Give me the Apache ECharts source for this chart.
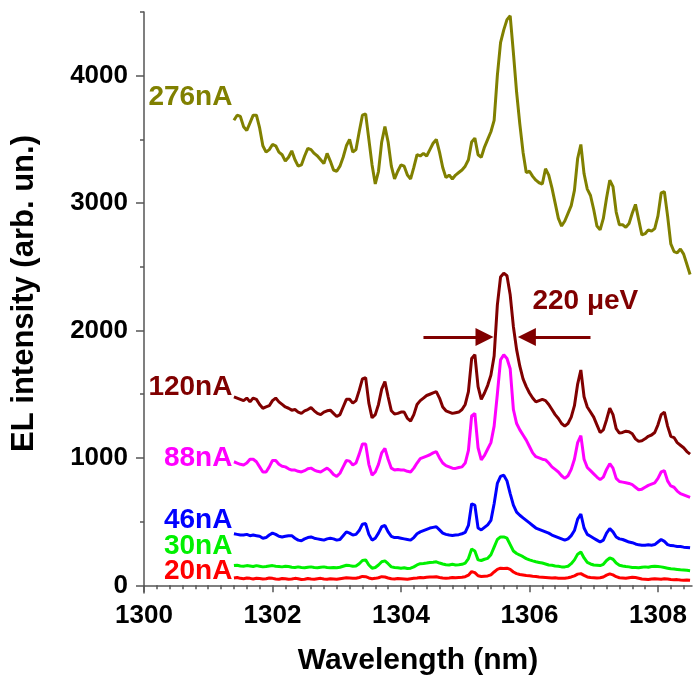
<!DOCTYPE html>
<html>
<head>
<meta charset="utf-8">
<script src="https://cdn.jsdelivr.net/npm/echarts@6/dist/echarts.min.js"></script>
<style>
  html, body { margin: 0; padding: 0; background: #fff; }
  #chart { width: 693px; height: 675px; }
</style>
</head>
<body>
<div id="chart"></div>
<script>
// wavelength grid (nm), shared by all spectra
var wavelength = [
  1301.4, 1301.45, 1301.5, 1301.55, 1301.6, 1301.65, 1301.7, 1301.75, 1301.8, 1301.85, 1301.9, 1301.95,
  1302, 1302.05, 1302.1, 1302.15, 1302.2, 1302.25, 1302.3, 1302.35, 1302.4, 1302.45,
  1302.5, 1302.55, 1302.6, 1302.65, 1302.7, 1302.75, 1302.8, 1302.85, 1302.9, 1302.95,
  1303, 1303.05, 1303.1, 1303.15, 1303.2, 1303.25, 1303.3, 1303.35, 1303.4, 1303.45,
  1303.5, 1303.55, 1303.6, 1303.65, 1303.7, 1303.75, 1303.8, 1303.85, 1303.9, 1303.95,
  1304, 1304.05, 1304.1, 1304.15, 1304.2, 1304.25, 1304.3, 1304.35, 1304.4, 1304.45,
  1304.5, 1304.55, 1304.6, 1304.65, 1304.7, 1304.75, 1304.8, 1304.85, 1304.9, 1304.95,
  1305, 1305.05, 1305.1, 1305.15, 1305.2, 1305.25, 1305.3, 1305.35, 1305.4, 1305.45,
  1305.5, 1305.55, 1305.6, 1305.65, 1305.7, 1305.75, 1305.8, 1305.85, 1305.9, 1305.95,
  1306, 1306.05, 1306.1, 1306.15, 1306.2, 1306.25, 1306.3, 1306.35, 1306.4, 1306.45,
  1306.5, 1306.55, 1306.6, 1306.65, 1306.7, 1306.75, 1306.8, 1306.85, 1306.9, 1306.95,
  1307, 1307.05, 1307.1, 1307.15, 1307.2, 1307.25, 1307.3, 1307.35, 1307.4, 1307.45,
  1307.5, 1307.55, 1307.6, 1307.65, 1307.7, 1307.75, 1307.8, 1307.85, 1307.9, 1307.95,
  1308, 1308.05, 1308.1, 1308.15, 1308.2, 1308.25, 1308.3, 1308.35, 1308.4, 1308.45, 1308.5
]

var el276 = [
  3650, 3690, 3680, 3600, 3570, 3630, 3690, 3690, 3590, 3450, 3400, 3420,
  3460, 3450, 3400, 3380, 3330, 3360, 3410, 3340, 3290, 3300,
  3370, 3430, 3420, 3390, 3370, 3340, 3310, 3390, 3330, 3260,
  3250, 3290, 3360, 3450, 3500, 3400, 3420, 3560, 3690, 3700,
  3500, 3300, 3150, 3250, 3480, 3600, 3480, 3290, 3190, 3250,
  3300, 3290, 3220, 3190, 3280, 3380, 3370, 3390, 3370, 3420,
  3470, 3500, 3400, 3280, 3200, 3220, 3190, 3220, 3240, 3260,
  3290, 3340, 3480, 3510, 3380, 3360, 3440, 3500, 3560, 3650,
  4000, 4260, 4360, 4440, 4470, 4180, 3870, 3620, 3400, 3240,
  3250, 3210, 3180, 3160, 3150, 3270, 3220, 3120, 3000, 2880,
  2820, 2860, 2920, 2980, 3100, 3350, 3460, 3230, 3110, 3060,
  2950, 2820, 2790, 2880, 3040, 3180, 3130, 2930, 2830, 2830,
  2810, 2840, 2920, 2990, 2870, 2750, 2760, 2790, 2780, 2800,
  2900, 3080, 3090, 2900, 2680, 2620, 2610, 2640, 2600, 2520, 2440
]

var el120 = [
  1480, 1470, 1460, 1450, 1470, 1440, 1470, 1460, 1420, 1390, 1400, 1410,
  1450, 1470, 1440, 1420, 1400, 1390, 1375, 1380, 1360, 1350,
  1370, 1380, 1395, 1370, 1350, 1340, 1360, 1370, 1375, 1350,
  1325, 1340, 1400, 1460, 1460, 1430, 1450, 1530, 1620, 1630,
  1430, 1315, 1340, 1420, 1540, 1600, 1480, 1370, 1345, 1350,
  1360, 1360, 1310, 1290, 1340, 1420, 1450, 1470, 1490, 1500,
  1510, 1520, 1470, 1400, 1370, 1360, 1350, 1355, 1360, 1380,
  1420, 1520, 1780, 1810, 1560, 1460, 1510, 1570, 1650, 1800,
  2200, 2420, 2450, 2430, 2280, 2030, 1850, 1720, 1620, 1560,
  1510, 1470, 1440, 1450, 1460, 1450, 1420, 1380, 1340, 1310,
  1270, 1250, 1270, 1320, 1410, 1580, 1690, 1480, 1400, 1360,
  1320, 1260, 1200, 1220, 1300, 1390, 1340, 1230, 1195, 1200,
  1210, 1205, 1190, 1150, 1130, 1135, 1150, 1170, 1180, 1200,
  1260, 1340, 1360, 1250, 1170, 1160, 1120, 1100, 1080, 1050, 1030
]

var el88 = [
  970, 960, 950, 945, 960, 990, 990, 970, 930, 890, 890, 930,
  980, 980, 950, 935, 930, 915, 905, 905, 895, 890,
  900, 915, 920, 905, 895, 890, 905, 920, 900, 870,
  855, 880, 930, 980, 975, 945, 960, 1030, 1110, 1110,
  950, 865, 890, 950, 1040, 1075, 990, 920, 905, 910,
  905, 905, 895, 890, 920, 960, 995, 1005, 1015, 1025,
  1040, 1050, 1000, 960, 940, 930, 920, 918, 925, 930,
  960, 1060, 1330, 1350, 1080, 985, 1020, 1070, 1120, 1250,
  1500, 1770, 1810, 1780, 1700, 1380, 1270, 1220, 1180, 1140,
  1090, 1040, 1010, 1000, 990, 985, 960, 930, 910, 890,
  860, 840, 860, 910, 990, 1120, 1175, 990, 925, 900,
  875, 850, 830, 850, 910, 955, 920, 840, 815, 810,
  805, 800, 790, 770, 750, 755, 770, 785, 795, 805,
  840, 890, 900, 820, 780, 770, 740, 720, 710, 700, 690
]

var el46 = [
  405, 400, 395, 395, 400, 390, 395, 390, 385, 370, 375, 395,
  410, 400, 385, 380, 385, 390, 390, 370, 355, 350,
  365, 375, 380, 370, 365, 360, 355, 365, 370, 365,
  355, 360, 390, 420, 410, 395, 400, 430, 480, 485,
  400, 355, 370, 410, 460, 470, 420, 385, 375, 375,
  370, 365, 360, 355, 375, 405, 420, 430, 440, 450,
  455, 460, 435, 410, 400, 395, 392, 395, 398, 405,
  415, 470, 640, 630, 450, 435, 455, 475, 510, 640,
  800, 855, 865, 820, 720, 630, 575, 550, 530, 510,
  490, 470, 450, 440, 430, 420, 410, 395, 385, 375,
  365, 355, 365, 390, 430, 520, 560, 450, 400, 385,
  370, 355, 340, 355, 410, 445, 420, 380, 365, 360,
  350, 340, 335, 325, 318, 315, 315, 318, 315, 320,
  340, 360, 345, 320, 312, 310, 305, 305, 300, 298, 295
]

var el30 = [
  155, 158, 152, 150, 155, 152, 148, 155, 150, 145, 148, 152,
  155, 150, 148, 145, 150, 148, 142, 140, 145, 140,
  138, 142, 145, 140, 138, 142, 145, 140, 138, 140,
  138, 142, 150, 158, 155, 150, 152, 170, 195, 200,
  160, 135, 140, 160, 185, 192, 170, 145, 140, 138,
  135, 138, 132, 135, 145, 160, 170, 172, 175, 180,
  182, 185, 175, 168, 162, 160, 165, 160, 162, 165,
  175, 210, 285, 270, 200, 195, 205, 212, 240, 300,
  360, 380, 380, 370, 320, 270, 250, 238, 225, 210,
  200, 192, 185, 180, 175, 168, 160, 158, 152, 150,
  145, 145, 150, 170, 200, 245, 262, 215, 180, 168,
  160, 158, 155, 165, 195, 215, 205, 175, 158, 152,
  148, 145, 140, 140, 138, 142, 145, 142, 148, 150,
  148, 145, 140, 135, 130, 128, 125, 122, 120, 118, 115
]

var el20 = [
  58, 62, 55, 52, 58, 55, 50, 56, 54, 50, 52, 58,
  55, 50, 48, 54, 52, 48, 50, 55, 52, 46,
  48, 54, 50, 48, 52, 55, 50, 48, 52, 50,
  48, 52, 56, 60, 58, 55, 56, 62, 70, 68,
  58, 52, 55, 60, 68, 66, 58, 52, 50, 54,
  52, 50, 48, 52, 55, 58, 62, 60, 64, 66,
  65, 68, 62, 58, 56, 58, 62, 60, 62, 64,
  68, 80, 108, 100, 75, 70, 72, 74, 82, 105,
  125, 135, 132, 135, 125, 105, 92, 85, 82, 78,
  75, 72, 70, 66, 64, 62, 60, 58, 60, 56,
  55, 56, 60, 66, 75, 88, 92, 78, 66, 62,
  60, 58, 60, 66, 80, 90, 82, 68, 60, 58,
  56, 60, 64, 62, 56, 50, 48, 46, 50, 52,
  50, 48, 52, 50, 46, 44, 45, 42, 40, 42, 40
]

var seriesNames = ['276nA', '120nA', '88nA', '46nA', '30nA', '20nA']
var seriesColors = ['#808000', '#800000', '#ff00ff', '#0000ff', '#00f000', '#ff0000']
var seriesValues = [el276, el120, el88, el46, el30, el20]
// height (arb. un.) where each current label sits, left of the spectrum
var labelLevel = [3830, 1553, 1000, 510, 305, 109]

var yMajorTicks = [0, 1000, 2000, 3000, 4000]
var yMinorTicks = [500, 1500, 2500, 3500, 4500]
var xMajorTicks = [1300, 1302, 1304, 1306, 1308]

// FWHM arrows on the 120nA peak: [from, to] wavelength at one height
var fwhmArrows = [[1304.35, 1305.3], [1306.95, 1305.96]]
var fwhmLevel = 1950
var fwhmText = '220 \u03bceV'
var fwhmTextAt = [1306.87, 2228]

var fontFamily = '"Liberation Sans", Arial, sans-serif'

function plain(v) {
  return String(v)
}

function buildSeries() {
  return seriesNames.map(function (name, i) {
    var s = {
      name: name,
      type: 'line',
      showSymbol: false,
      symbol: 'none',
      smooth: false,
      lineStyle: { color: seriesColors[i], width: 3 },
      itemStyle: { color: seriesColors[i] },
      data: wavelength.map(function (w, k) { return [w, seriesValues[i][k]] }),
      markPoint: {
        symbol: 'circle',
        symbolSize: 1,
        itemStyle: { color: 'rgba(0,0,0,0)' },
        animation: false,
        data: [{
          coord: [wavelength[0], labelLevel[i]],
          label: {
            show: true,
            position: 'left',
            distance: 1,
            formatter: name,
            color: seriesColors[i],
            fontSize: 28,
            fontWeight: 'bold',
            fontFamily: fontFamily
          }
        }]
      }
    }
    if (name === '120nA') {
      s.markPoint.data.push({
        coord: fwhmTextAt,
        label: {
          show: true,
          position: 'inside',
          formatter: fwhmText,
          color: '#800000',
          fontSize: 28,
          fontWeight: 'bold',
          fontFamily: fontFamily
        }
      })
      s.markLine = {
        silent: true,
        animation: false,
        symbol: ['none', 'triangle'],
        symbolSize: 18,
        label: { show: false },
        lineStyle: { color: '#800000', width: 3, type: 'solid' },
        data: fwhmArrows.map(function (a) {
          return [{ coord: [a[0], fwhmLevel] }, { coord: [a[1], fwhmLevel] }]
        })
      }
    }
    return s
  })
}

var chart = echarts.init(document.getElementById('chart'))
var option = {
  animation: false,
  grid: { left: 144, right: 1, top: 12, bottom: 82, outerBoundsMode: 'none' },
  xAxis: {
    type: 'value',
    min: 1300,
    max: 1308.53,
    interval: 2,
    name: 'Wavelength (nm)',
    nameLocation: 'middle',
    nameGap: 53,
    nameTextStyle: { color: '#000', fontSize: 30, fontWeight: 'bold', fontFamily: fontFamily },
    axisLine: { lineStyle: { color: '#555', width: 1.5 } },
    axisTick: { length: 7, customValues: xMajorTicks, lineStyle: { color: '#555', width: 1.5 } },
    minorTick: { show: true, splitNumber: 10, length: 4, lineStyle: { color: '#555', width: 1.5 } },
    splitLine: { show: false },
    axisLabel: {
      customValues: xMajorTicks,
      formatter: plain,
      margin: 10,
      color: '#000',
      fontSize: 26,
      fontWeight: 'bold',
      fontFamily: fontFamily
    }
  },
  yAxis: [
    {
      type: 'value',
      min: -60,
      max: 4500,
      name: 'EL intensity (arb. un.)',
      nameLocation: 'middle',
      nameGap: 104,
      nameTextStyle: { color: '#000', fontSize: 31, fontWeight: 'bold', fontFamily: fontFamily, padding: [0, 0, 0, 18] },
      axisLine: { show: true, lineStyle: { color: '#555', width: 1.5 } },
      axisTick: { show: true, length: 8, customValues: yMajorTicks, lineStyle: { color: '#555', width: 1.5 } },
      splitLine: { show: false },
      axisLabel: {
        customValues: yMajorTicks,
        formatter: plain,
        margin: 16,
        color: '#000',
        fontSize: 26,
        fontWeight: 'bold',
        fontFamily: fontFamily
      }
    },
    {
      // minor ticks only
      type: 'value',
      position: 'left',
      min: -60,
      max: 4500,
      axisLine: { show: false },
      axisTick: { show: true, length: 4, customValues: yMinorTicks, lineStyle: { color: '#555', width: 1.5 } },
      axisLabel: { show: false, customValues: yMinorTicks },
      splitLine: { show: false }
    }
  ],
  series: buildSeries()
}
chart.setOption(option)
</script>
</body>
</html>
